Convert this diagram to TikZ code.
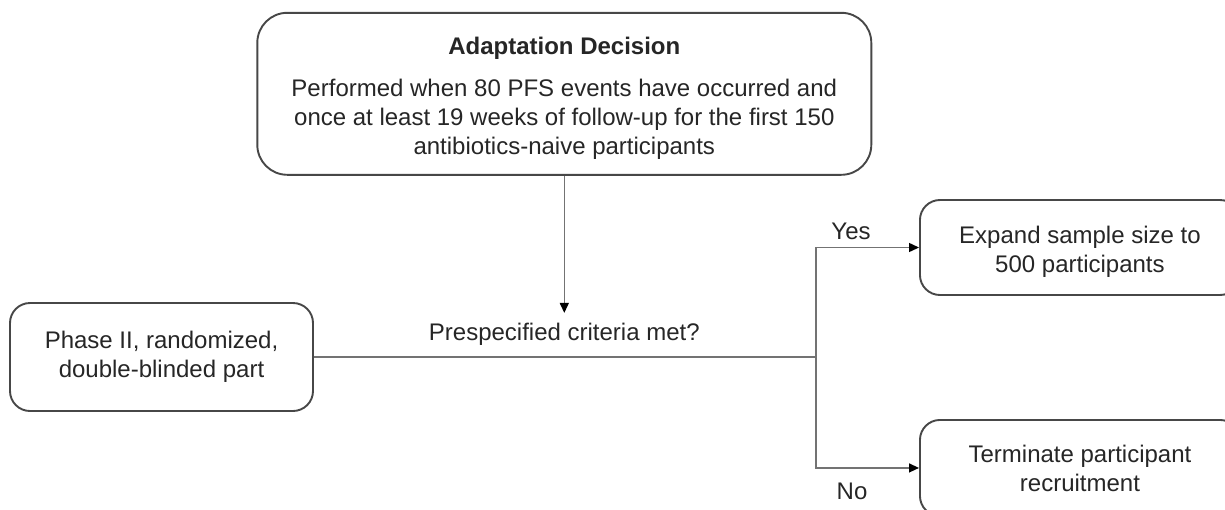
\documentclass[tikz,border=0pt]{standalone}
\usepackage{fontspec}
\setmainfont{Liberation Sans}
\usetikzlibrary{arrows.meta}
\begin{document}
\begin{tikzpicture}[x=1pt,y=-1pt,
  box/.style={draw=black!72, line width=1.9pt, rounded corners=#1, fill=white,
    inner sep=0pt, align=center, text=black!85,
    font=\fontsize{24}{29}\selectfont},
  box/.default=20pt,
  lbl/.style={inner sep=0pt, text=black!85, font=\fontsize{24}{29}\selectfont},
  conn/.style={draw=black!55, line width=1.4pt},
  arr/.style={conn, -{Triangle[length=10pt,width=9pt,fill=black,color=black]}}]
\useasboundingbox (0,0) rectangle (1225,509);
\clip (0,0) rectangle (1225,509);
% boxes
\node[box=30pt, minimum width=614pt, minimum height=162pt] (top) at (564.3,93.8)
  {\rule{0pt}{25.5pt}\textbf{Adaptation Decision}\\[13pt]
   Performed when 80 PFS events have occurred and\\
   once at least 19 weeks of follow-up for the first 150\\
   antibiotics-naive participants};
\node[box, minimum width=303pt, minimum height=108pt] (phase) at (161.5,357)
  {Phase II, randomized,\\double-blinded part};
\node[box, minimum width=320pt, minimum height=95pt, anchor=west] (expand) at (919,247.5)
  {\rule{0pt}{25pt}Expand sample size to\\500 participants};
\node[box, minimum width=320pt, minimum height=96pt, anchor=north west] (term) at (919,419)
  {Terminate participant\\recruitment};
% decision text
\node[lbl, anchor=base, inner ysep=9.5pt] (q) at (564.3,340) {Prespecified criteria met?};
\coordinate (split) at (816,357);
% connectors
\draw[arr] (top.south) -- (q.north);
\draw[conn] (phase.east) -- (split);
\draw[arr] (split) |- (expand.west);
\draw[arr] (split) |- (term.west);
% labels
\node[lbl, anchor=base] (yes) at (851,239) {Yes};
\node[lbl, anchor=base] (no) at (852,499) {No};
\end{tikzpicture}
\end{document}
